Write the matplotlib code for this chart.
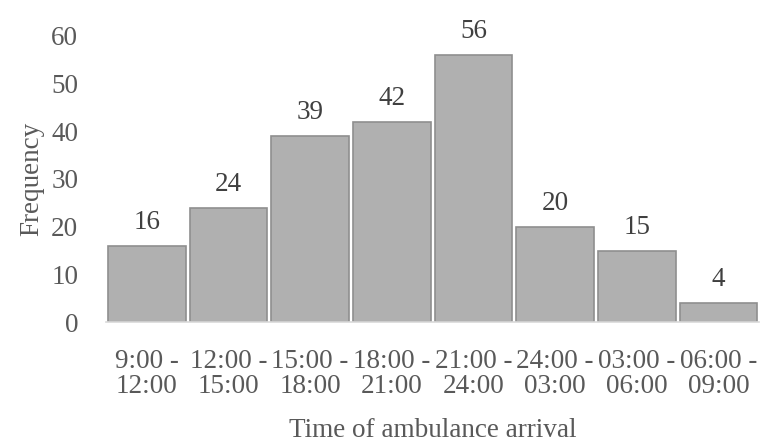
import matplotlib
matplotlib.use("Agg")
import matplotlib.pyplot as plt

# data
periods = ["9:00 -\n12:00", "12:00 -\n15:00", "15:00 -\n18:00", "18:00 -\n21:00",
           "21:00 -\n24:00", "24:00 -\n03:00", "03:00 -\n06:00", "06:00 -\n09:00"]
freq = [16, 24, 39, 42, 56, 20, 15, 4]
yticks = [0, 10, 20, 30, 40, 50, 60]

plt.rcParams['font.family'] = ['Liberation Serif', 'DejaVu Serif']
fs = 19.5

fig = plt.figure(figsize=(7.63, 4.48), dpi=100)
ax = fig.add_axes([0.139, 0.281, 0.856, 0.639])

x = range(len(freq))
bars = ax.bar(x, freq, width=0.95, color='#b0b0b0', edgecolor='#8f8f8f', linewidth=1.2)
for xi, v in zip(x, freq):
    ax.text(xi, v + 2.3, str(v), ha='center', va='bottom', fontsize=fs, color='#404040')

ax.set_xlim(-0.5, len(freq) - 0.5)
ax.set_ylim(0, 60)
ax.set_yticks(yticks)
ax.set_xticks(list(x))
ax.set_xticklabels(periods, fontsize=fs, color='#595959', linespacing=1.05)
ax.tick_params(axis='y', labelsize=fs, labelcolor='#595959', length=0, pad=20)
ax.tick_params(axis='x', length=0, pad=19)

for s in ['top', 'right', 'left']:
    ax.spines[s].set_visible(False)
ax.spines['bottom'].set_color('#d9d9d9')
ax.spines['bottom'].set_linewidth(1.2)

ax.set_ylabel('Frequency', fontsize=fs, color='#595959', labelpad=5)
ax.set_xlabel('Time of ambulance arrival', fontsize=fs, color='#595959', labelpad=13)

fig.savefig('out.png', dpi=100)
